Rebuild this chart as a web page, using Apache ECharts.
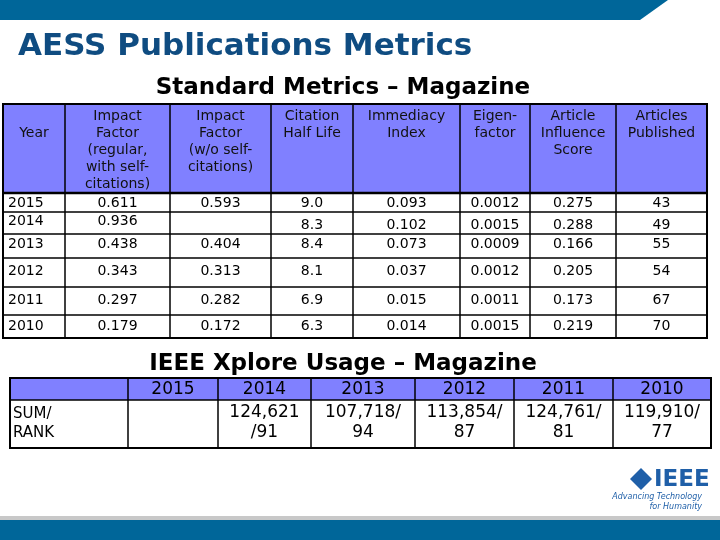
<!DOCTYPE html>
<html><head><meta charset="utf-8">
<script src="https://cdn.jsdelivr.net/npm/echarts@6/dist/echarts.min.js"></script>
<style>html,body{margin:0;padding:0;background:#fff}#c{width:720px;height:540px}</style>
</head><body><div id="c"></div>
<script>
// standard metrics table
var headers = ['Year', 'Impact\nFactor\n(regular,\nwith self-\ncitations)', 'Impact\nFactor\n(w/o self-\ncitations)',
  'Citation\nHalf Life', 'Immediacy\nIndex', 'Eigen-\nfactor', 'Article\nInfluence\nScore', 'Articles\nPublished'];
var years = ['2015', '2014', '2013', '2012', '2011', '2010'];
var impactFactor = ['0.611', '0.936', '0.438', '0.343', '0.297', '0.179'];
var impactNoSelf = ['0.593', '', '0.404', '0.313', '0.282', '0.172'];
var halfLife = ['9.0', '8.3', '8.4', '8.1', '6.9', '6.3'];
var immediacy = ['0.093', '0.102', '0.073', '0.037', '0.015', '0.014'];
var eigenfactor = ['0.0012', '0.0015', '0.0009', '0.0012', '0.0011', '0.0015'];
var articleInfluence = ['0.275', '0.288', '0.166', '0.205', '0.173', '0.219'];
var articles = ['43', '49', '55', '54', '67', '70'];

// xplore usage table
var usageYears = ['2015', '2014', '2013', '2012', '2011', '2010'];
var usageValues = ['', '124,621\n/91', '107,718/\n94', '113,854/\n87', '124,761/\n81', '119,910/\n77'];

var font = 'DejaVu Sans';
var blue = '#8080ff';
var colX = [3, 65, 170, 271, 353, 460, 530, 616, 707];
var rowY = [104, 193, 212, 234, 258, 287, 315, 338];
var textY = [203, 221, 244, 271, 300, 326];
var cols = [years, impactFactor, impactNoSelf, halfLife, immediacy, eigenfactor, articleInfluence, articles];

var g = [];
// top band
g.push({type: 'polygon', shape: {points: [[0, 0], [668, 0], [640, 20], [0, 20]]}, style: {fill: '#006699'}});
g.push({type: 'text', x: 18, y: 47, style: {text: 'AESS Publications Metrics', font: 'bold 31px ' + font, fill: '#0f4c81', verticalAlign: 'middle'}});
g.push({type: 'text', x: 343, y: 88, style: {text: 'Standard Metrics – Magazine', font: 'bold 23px ' + font, fill: '#000', align: 'center', verticalAlign: 'middle'}});

// table 1
var line = function (x1, y1, x2, y2, w) {
  g.push({type: 'line', shape: {x1: x1, y1: y1, x2: x2, y2: y2}, style: {stroke: '#000', lineWidth: w || 1.5}});
};
g.push({type: 'rect', shape: {x: colX[0], y: rowY[0], width: colX[8] - colX[0], height: rowY[1] - rowY[0]}, style: {fill: blue}});
g.push({type: 'rect', shape: {x: colX[0], y: rowY[0], width: colX[8] - colX[0], height: rowY[7] - rowY[0]}, style: {fill: 'none', stroke: '#000', lineWidth: 2}});
colX.slice(1, 8).forEach(function (x) { line(x, rowY[0], x, rowY[7]); });
rowY.slice(1, 7).forEach(function (y, i) { line(colX[0], y, colX[8], y, i === 0 ? 2.5 : 1.5); });
headers.forEach(function (h, i) {
  g.push({type: 'text', x: (colX[i] + colX[i + 1]) / 2, y: i === 0 ? 133 : 108,
    style: {text: h, font: '14px ' + font, fill: '#111', align: 'center', verticalAlign: i === 0 ? 'middle' : 'top', lineHeight: 17}});
});
cols.forEach(function (col, i) {
  col.forEach(function (v, r) {
    var y = textY[r];
    if (i > 2 && r === 1) y = 225;
    g.push({type: 'text', x: i === 0 ? 8 : (colX[i] + colX[i + 1]) / 2, y: y, style: {text: v, font: '14px ' + font, fill: '#000', align: i === 0 ? 'left' : 'center', verticalAlign: 'middle'}});
  });
});

// table 2
g.push({type: 'text', x: 343, y: 364, style: {text: 'IEEE Xplore Usage – Magazine', font: 'bold 23px ' + font, fill: '#000', align: 'center', verticalAlign: 'middle'}});
var uX = [10, 128, 218, 311, 415, 514, 613, 711];
g.push({type: 'rect', shape: {x: uX[0], y: 378, width: uX[7] - uX[0], height: 22}, style: {fill: blue}});
g.push({type: 'rect', shape: {x: uX[0], y: 378, width: uX[7] - uX[0], height: 70}, style: {fill: 'none', stroke: '#000', lineWidth: 2}});
line(uX[0], 400, uX[7], 400);
uX.slice(1, 7).forEach(function (x) { line(x, 378, x, 448); });
g.push({type: 'text', x: 13, y: 424, style: {text: 'SUM/\nRANK', font: '15px ' + font, fill: '#000', verticalAlign: 'middle', lineHeight: 19}});
usageYears.forEach(function (yr, i) {
  var cx = (uX[i + 1] + uX[i + 2]) / 2;
  g.push({type: 'text', x: cx, y: 390, style: {text: yr, font: '17px ' + font, fill: '#000', align: 'center', verticalAlign: 'middle'}});
  g.push({type: 'text', x: cx, y: 423, style: {text: usageValues[i], font: '17px ' + font, fill: '#000', align: 'center', verticalAlign: 'middle', lineHeight: 20}});
});

// logo and bottom band
g.push({type: 'polygon', shape: {points: [[641, 468], [652, 479], [641, 490], [630, 479]]}, style: {fill: '#1f5fa8'}});
g.push({type: 'text', x: 654, y: 480, style: {text: 'IEEE', font: 'bold 23px ' + font, fill: '#1f5fa8', verticalAlign: 'middle'}});
g.push({type: 'text', x: 702, y: 492, style: {text: 'Advancing Technology\nfor Humanity', font: 'italic 8px ' + font, fill: '#1f5fa8', align: 'right', verticalAlign: 'top', lineHeight: 10}});
g.push({type: 'rect', shape: {x: 0, y: 516, width: 720, height: 4}, style: {fill: '#c8c8c8'}});
g.push({type: 'rect', shape: {x: 0, y: 520, width: 720, height: 20}, style: {fill: '#006699'}});

var chart = echarts.init(document.getElementById('c'));
chart.setOption({animation: false, graphic: g});
</script></body></html>
